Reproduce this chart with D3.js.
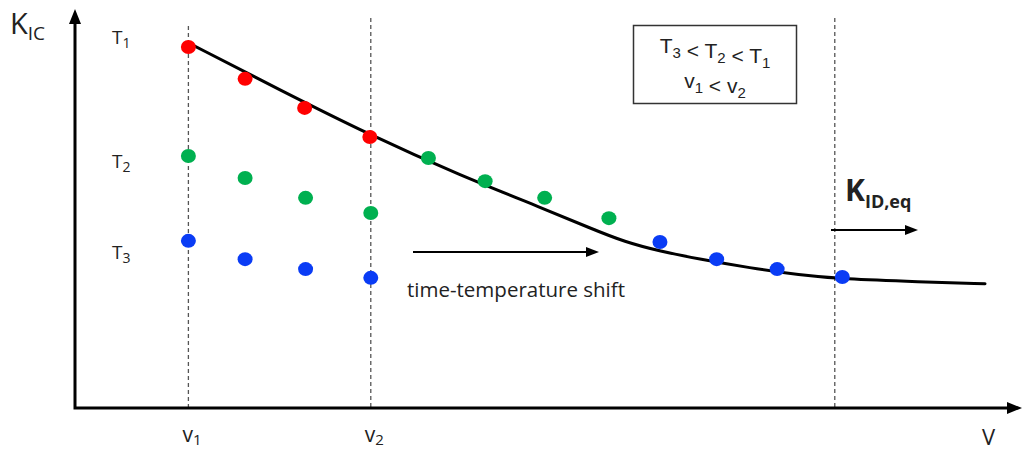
<!DOCTYPE html>
<html>
<head>
<meta charset="utf-8">
<script src="https://cdn.jsdelivr.net/npm/d3@7"></script>
<style>
  html, body { margin: 0; padding: 0; background: #fff; }
  svg { display: block; }
  text { font-family: "Open Sans", "Noto Sans", sans-serif; fill: #222; }
</style>
</head>
<body>
<script>
// schematic values, arbitrary units (0..100 on both axes)
var redX = [12.0, 18.0, 24.3, 31.2];
var redY = [90.7, 82.7, 75.4, 68.1];

var greenX = [12.0, 18.0, 24.4, 31.3, 37.4, 43.4, 49.7, 56.5];
var greenY = [63.3, 57.8, 52.8, 49.0, 62.8, 57.0, 52.8, 47.7];

var blueX = [12.0, 18.0, 24.4, 31.3, 61.9, 67.9, 74.3, 81.2];
var blueY = [42.0, 37.4, 34.9, 32.7, 41.7, 37.4, 34.9, 32.9];

// master curve
var curveX = [12.2, 21.7, 31.2, 40.7, 49.7, 54.5, 58.2, 61.9, 66.1, 71.4, 76.7, 81.2, 89.4, 96.3];
var curveY = [91.5, 79.9, 68.6, 58.5, 50.0, 45.2, 41.7, 39.4, 37.4, 35.2, 33.4, 32.4, 31.7, 31.2];

// dashed guide lines: v1, v2, equilibrium
var guideX = [12.0, 31.3, 80.4];
var guideTop = [96, 98, 98];
var rateLabels = ["1", "2"];

var width = 1024, height = 452;

var svg = d3.select("body").append("svg")
    .attr("width", width)
    .attr("height", height);

var x = d3.scaleLinear().domain([0, 100]).range([75, 1020]);
var y = d3.scaleLinear().domain([0, 100]).range([408, 10]);

// dashed verticals
svg.selectAll("line.guide")
    .data(guideX)
    .enter().append("line")
    .attr("class", "guide")
    .attr("x1", function(d) { return x(d); })
    .attr("x2", function(d) { return x(d); })
    .attr("y1", function(d, i) { return y(guideTop[i]); })
    .attr("y2", y(0))
    .attr("stroke", "#555")
    .attr("stroke-width", 1.3)
    .attr("stroke-dasharray", "4,3");

// axes with arrow heads
svg.append("path")
    .attr("d", "M" + x(0) + "," + (y(100) + 8) + "V" + y(0) + "H" + (x(100) - 8))
    .attr("fill", "none")
    .attr("stroke", "#000")
    .attr("stroke-width", 3);

svg.append("path")
    .attr("d", "M" + x(0) + "," + (y(100) - 1) + "l-6,15h12z")
    .attr("fill", "#000");
svg.append("path")
    .attr("d", "M" + (x(100) + 2) + "," + y(0) + "l-15,-6v12z")
    .attr("fill", "#000");

// master curve
var line = d3.line()
    .x(function(d) { return x(d[0]); })
    .y(function(d) { return y(d[1]); })
    .curve(d3.curveBasis);

svg.append("path")
    .datum(d3.zip(curveX, curveY))
    .attr("d", line)
    .attr("fill", "none")
    .attr("stroke", "#000")
    .attr("stroke-width", 3)
    .attr("stroke-linecap", "round");

// measured points per temperature
function dots(xs, ys, color) {
    svg.append("g").selectAll("ellipse")
        .data(d3.zip(xs, ys))
        .enter().append("ellipse")
        .attr("cx", function(d) { return x(d[0]); })
        .attr("cy", function(d) { return y(d[1]); })
        .attr("rx", 7.5)
        .attr("ry", 7)
        .attr("fill", color);
}
dots(greenX, greenY, "#00b050");
dots(blueX, blueY, "#0a3cf5");
dots(redX, redY, "#ff0000");

// thin arrows
function arrow(x1, x2, yy) {
    svg.append("line")
        .attr("x1", x1).attr("x2", x2 - 8)
        .attr("y1", yy).attr("y2", yy)
        .attr("stroke", "#000")
        .attr("stroke-width", 2);
    svg.append("path")
        .attr("d", "M" + x2 + "," + yy + "l-13,-5v10z")
        .attr("fill", "#000");
}
arrow(413, 599, 252);
arrow(831, 918, 230);

// labels with a subscript
function label(tx, ty, main, sub, size, subSize, weight, shift) {
    var t = svg.append("text")
        .attr("x", tx)
        .attr("y", ty)
        .attr("font-size", size)
        .attr("font-weight", weight || "normal");
    t.append("tspan").text(main);
    t.append("tspan")
        .attr("font-size", subSize)
        .attr("dy", shift == null ? size * 0.22 : shift)
        .text(sub);
    return t;
}

label(10, 34, "K", "IC", 29, 19);
label(112, 44, "T", "1", 19, 14);
label(112, 168, "T", "2", 19, 14);
label(112, 259, "T", "3", 19, 14);
label(845, 201, "K", "ID,eq", 30, 18, "bold");

rateLabels.forEach(function(r, i) {
    label(x(guideX[i]) - 6, 442, "v", r, 21, 15, null, 3);
});

svg.append("text")
    .attr("x", 982)
    .attr("y", 445)
    .attr("font-size", 22)
    .text("V");

svg.append("text")
    .attr("x", 516)
    .attr("y", 297)
    .attr("text-anchor", "middle")
    .attr("font-size", 20.5)
    .text("time-temperature shift");

// legend box for the ordering of T and v
svg.append("rect")
    .attr("x", 633.5).attr("y", 25.5)
    .attr("width", 163).attr("height", 78)
    .attr("fill", "#fff")
    .attr("stroke", "#333")
    .attr("stroke-width", 1.5);

function boxLine(ty, parts) {
    var t = svg.append("text")
        .attr("x", 715).attr("y", ty)
        .attr("text-anchor", "middle")
        .attr("font-size", 21)
        .style("font-family", "'Liberation Sans', Arial, sans-serif");
    parts.forEach(function(p) {
        t.append("tspan").attr("font-size", 21).attr("dy", 0).text(p[0]);
        t.append("tspan").attr("font-size", 15).attr("dy", 5).text(p[1]);
        t.append("tspan").attr("font-size", 21).attr("dy", -5).text("");
    });
}
boxLine(53, [["T", "3"], [" < T", "2"], [" < T", "1"]]);
boxLine(88, [["v", "1"], [" < v", "2"]]);
</script>
</body>
</html>
